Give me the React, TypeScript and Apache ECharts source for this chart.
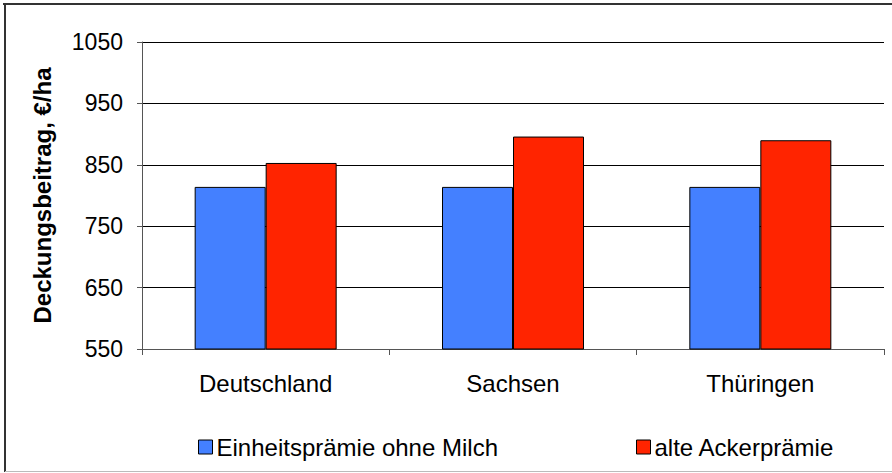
import React, { useEffect, useRef } from "react";
import * as echarts from "echarts";

const categories = ["Deutschland", "Sachsen", "Thüringen"];
const einheitspraemie = [814, 814, 814];
const alteAckerpraemie = [853, 896, 890];
const seriesNames = ["Einheitsprämie ohne Milch", "alte Ackerprämie"];
const yAxisName = "Deckungsbeitrag, €/ha";

const FONT = "'Liberation Sans', Arial, sans-serif";

export default function App() {
  const ref = useRef<HTMLDivElement>(null);
  useEffect(() => {
    document.body.style.margin = "0";
    const chart = echarts.init(ref.current!, null, { renderer: "svg" });
    const legendBase = {
      top: 435,
      padding: 0,
      icon: "rect",
      itemWidth: 14,
      itemHeight: 14,
      itemStyle: { borderColor: "#000", borderWidth: 1 },
      textStyle: { color: "#000", fontSize: 24, fontFamily: FONT, padding: [0, 0, 0, -1] },
    };
    chart.setOption({
      animation: false,
      backgroundColor: "#ffffff",
      textStyle: { fontFamily: FONT },
      grid: { left: 142, right: 8, top: 42, bottom: 124, containLabel: false },
      xAxis: {
        type: "category",
        data: categories,
        boundaryGap: true,
        axisLine: { lineStyle: { color: "#555", width: 1 } },
        axisTick: { show: true, length: 6, lineStyle: { color: "#555" } },
        axisLabel: { color: "#000", fontSize: 24, fontFamily: FONT, margin: 22 },
      },
      yAxis: {
        type: "value",
        min: 550,
        max: 1050,
        interval: 100,
        name: yAxisName,
        nameLocation: "middle",
        nameRotate: 90,
        nameGap: 88,
        nameTextStyle: { color: "#000", fontSize: 24, fontWeight: "bold", fontFamily: FONT },
        axisLine: { show: true, lineStyle: { color: "#555", width: 1 } },
        axisTick: { show: true, inside: false, length: 5, lineStyle: { color: "#555" } },
        axisLabel: {
          color: "#000",
          fontSize: 23,
          fontFamily: FONT,
          margin: 19,
          formatter: (v: number) => String(v),
        },
        splitLine: { show: true, lineStyle: { color: "#000", width: 1 } },
      },
      legend: [
        { ...legendBase, left: 198, data: [seriesNames[0]] },
        { ...legendBase, left: 636, data: [seriesNames[1]] },
      ],
      series: [
        {
          name: seriesNames[0],
          type: "bar",
          data: einheitspraemie,
          barWidth: 71,
          barGap: "0%",
          itemStyle: { color: "#4480ff", borderColor: "#000", borderWidth: 1 },
        },
        {
          name: seriesNames[1],
          type: "bar",
          data: alteAckerpraemie,
          barWidth: 71,
          barGap: "0%",
          itemStyle: { color: "#ff2400", borderColor: "#000", borderWidth: 1 },
        },
      ],
      graphic: [
        { type: "line", shape: { x1: 3, y1: 4, x2: 892, y2: 4 }, style: { stroke: "#333", lineWidth: 2 } },
        { type: "line", shape: { x1: 5, y1: 3, x2: 5, y2: 472 }, style: { stroke: "#333", lineWidth: 2 } },
        { type: "line", shape: { x1: 5, y1: 471.5, x2: 892, y2: 471.5 }, style: { stroke: "#bbb", lineWidth: 1 } },
      ],
    });
    return () => chart.dispose();
  }, []);
  return <div ref={ref} style={{ position: "absolute", left: 0, top: 0, width: 892, height: 473 }} />;
}
